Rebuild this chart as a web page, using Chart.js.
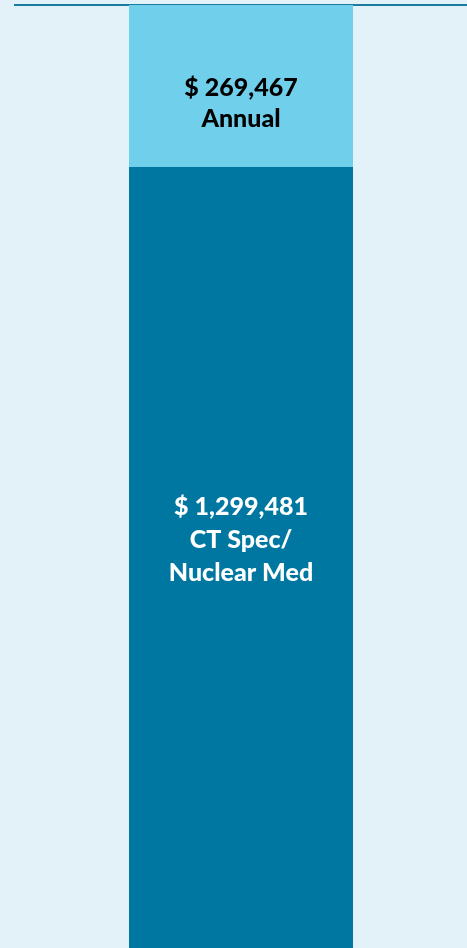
<!DOCTYPE html>
<html>
<head>
<meta charset="utf-8">
<script src="https://cdn.jsdelivr.net/npm/chart.js@4"></script>
<style>
  html, body { margin: 0; padding: 0; background: #e3f2f9; }
  #wrap { width: 467px; height: 948px; position: relative; }
</style>
</head>
<body>
<div id="wrap"><canvas id="c"></canvas></div>
<script>
const categories = ["Cost"];
const seriesNames = ["CT Spec/\nNuclear Med", "Annual"];
const nuclearValues = [1299481];
const annualValues = [269467];
const valueLabels = ["$ 1,299,481", "$ 269,467"];

const total = nuclearValues[0] + annualValues[0];

const labelPlugin = {
  id: 'segLabels',
  afterDatasetsDraw(chart) {
    const ctx = chart.ctx;
    const cfg = [
      { color: '#ffffff', frac: 0.477, lh: 33 },
      { color: '#000000', frac: 0.61, lh: 31 }
    ];
    chart.data.datasets.forEach((ds, i) => {
      const meta = chart.getDatasetMeta(i);
      meta.data.forEach((el) => {
        const top = Math.min(el.y, el.base), bot = Math.max(el.y, el.base);
        const lines = [valueLabels[i]].concat(seriesNames[i].split('\n'));
        const cy = top + (bot - top) * cfg[i].frac;
        ctx.save();
        ctx.fillStyle = cfg[i].color;
        ctx.font = '900 25px Lato';
        ctx.textAlign = 'center';
        ctx.textBaseline = 'middle';
        const start = cy - (lines.length - 1) * cfg[i].lh / 2;
        lines.forEach((t, k) => ctx.fillText(t, el.x, start + k * cfg[i].lh));
        ctx.restore();
      });
    });
  }
};

new Chart(document.getElementById('c'), {
  type: 'bar',
  data: {
    labels: categories,
    datasets: [
      { label: seriesNames[0], data: nuclearValues, backgroundColor: '#0077a0', borderWidth: 0 },
      { label: seriesNames[1], data: annualValues, backgroundColor: '#70cfea', borderWidth: 0 }
    ]
  },
  options: {
    responsive: true,
    maintainAspectRatio: false,
    animation: false,
    datasets: { bar: { categoryPercentage: 1, barPercentage: 0.4956 } },
    layout: { padding: { left: 15, top: 5, right: 0, bottom: 0 } },
    plugins: { legend: { display: false }, tooltip: { enabled: false } },
    scales: {
      x: {
        stacked: true,
        position: 'top',
        grid: { display: false, drawTicks: false },
        ticks: { display: false, padding: 0 },
        border: { display: true, color: '#1b7b9e', width: 2 }
      },
      y: {
        stacked: true,
        display: false,
        min: 0,
        max: total
      }
    }
  },
  plugins: [labelPlugin]
});
</script>
</body>
</html>
